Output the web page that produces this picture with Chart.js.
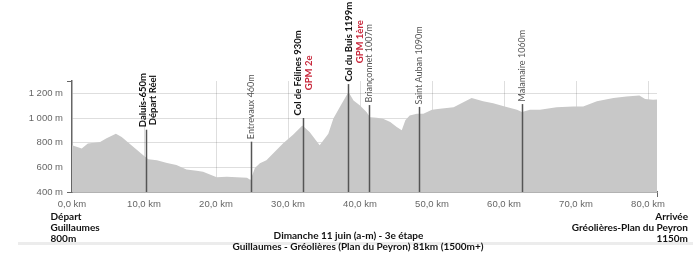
<!DOCTYPE html>
<html><head><meta charset="utf-8">
<script src="https://cdn.jsdelivr.net/npm/chart.js@4.4.1/dist/chart.umd.min.js"></script>
<style>html,body{margin:0;padding:0;background:#fff}#wrap{width:700px;height:259px;position:relative}</style>
</head><body><div id="wrap"><canvas id="c" width="700" height="259"></canvas></div>
<script>
// ---- data ----
const distanceKm = [0,1.35,2.2,3.9,4.8,6.1,6.9,8.5,9.9,10.6,11.8,13.2,14.5,15.9,17.3,18.2,20.1,21.5,22.9,24.3,24.8,25.4,26.1,27.0,29.3,30.7,32.0,33.0,34.4,35.6,36.3,37.2,38.4,39.1,40.0,40.9,41.4,42.3,43.2,44.2,45.1,45.8,46.3,46.9,47.9,48.8,50.0,51.1,53.0,55.5,57.1,58.5,60.1,61.8,62.5,63.6,65.0,67.3,69.6,71.0,72.9,75.2,77.0,78.8,79.6,80.7,81.25];
const elevationM = [779,752,793,806,835,873,846,766,698,666,658,636,618,583,572,564,519,524,519,516,497,594,634,658,793,865,940,887,779,873,996,1090,1211,1142,1102,1048,1007,1002,994,967,927,900,981,1021,1034,1034,1067,1075,1088,1163,1136,1120,1094,1067,1048,1067,1067,1088,1094,1094,1136,1163,1174,1182,1155,1147,1150];
const xTickValues = [0,10,20,30,40,50,60,70,80];
const yTickValues = [400,600,800,1000,1200];
const xMaxKm = 81.25;
const yMinM = 400, yMaxM = 1300;
const markerKm = [10.32,24.86,32.04,38.38,41.29,48.19,62.46];
const markerTopM = [905,808,1000,1275,1105,1090,1113];
const markerTitle = ['Daluis-650m','Entrevaux 460m','Col de Félines 930m','Col du Buis 1199m','Briançonnet 1007m','Saint Auban 1090m','Malamaire 1060m'];
const markerSub = ['Départ Réel','','GPM 2e','GPM 1ère','','',''];
const markerMajor = [true,false,true,true,false,false,false];
const startLines = ['Départ','Guillaumes','800m'];
const finishLines = ['Arrivée','Gréolières-Plan du Peyron','1150m'];
const titleLines = ['Dimanche 11 juin (a-m) - 3e étape','Guillaumes - Gréolières (Plan du Peyron) 81km (1500m+)'];

// ---- layout / style ----
const labelDx = [[-4,6],[0],[-6,5],[0,11],[0],[0],[0]];
const subColor = ['#111','', '#c8283c', '#c8283c','','',''];
const LABEL_FONT = "Lato, 'Open Sans', sans-serif";

const fmtKm = v => v.toFixed(1).replace('.', ',') + ' km';
const fmtM = v => String(v).replace(/\B(?=(\d{3})+(?!\d))/g, ' ') + ' m';

const profilePlugin = {
  id: 'profileLabels',
  afterDraw(chart) {
    const {ctx, scales: {x, y}, chartArea} = chart;
    ctx.save();
    markerKm.forEach((km, i) => {
      const px = Math.round(x.getPixelForValue(km)) + 0.5;
      const top = y.getPixelForValue(markerTopM[i]);
      ctx.strokeStyle = '#555';
      ctx.lineWidth = 1.5;
      ctx.beginPath();
      ctx.moveTo(px, chartArea.bottom);
      ctx.lineTo(px, top);
      ctx.stroke();
      ctx.save();
      ctx.translate(px, top - 2.5);
      ctx.rotate(-Math.PI / 2);
      ctx.textBaseline = 'middle';
      ctx.textAlign = 'center';
      const lines = [];
      if (markerMajor[i]) {
        lines.push({t: markerTitle[i], font: 'bold 9.5px ' + LABEL_FONT, color: '#111'});
        if (markerSub[i]) lines.push({t: markerSub[i], font: 'bold 9.5px ' + LABEL_FONT, color: subColor[i]});
      } else {
        lines.push({t: markerTitle[i], font: '9px ' + LABEL_FONT, color: '#555'});
      }
      let W = 0;
      lines.forEach(l => { ctx.font = l.font; W = Math.max(W, ctx.measureText(l.t).width); });
      lines.forEach((l, j) => {
        ctx.font = l.font;
        ctx.fillStyle = l.color;
        ctx.fillText(l.t, W / 2, labelDx[i][j] || 0);
      });
      ctx.restore();
    });
    // separator bar
    ctx.fillStyle = '#ececec';
    ctx.fillRect(18, 242, 675, 3);
    ctx.font = 'bold 10px ' + LABEL_FONT;
    ctx.fillStyle = '#111';
    ctx.textBaseline = 'middle';
    ctx.textAlign = 'left';
    startLines.forEach((t, j) => ctx.fillText(t, 50.5, 217 + j * 11));
    ctx.textAlign = 'right';
    finishLines.forEach((t, j) => ctx.fillText(t, 688, 217 + j * 11));
    ctx.textAlign = 'center';
    ctx.fillText(titleLines[0], 348.5, 236);
    ctx.fillText(titleLines[1], 358, 247);
    ctx.restore();
  }
};

const gridCol = 'rgba(0,0,0,0.13)';
new Chart(document.getElementById('c'), {
  type: 'line',
  data: {
    datasets: [{
      data: distanceKm.map((d, i) => ({x: d, y: elevationM[i]})),
      fill: 'start',
      backgroundColor: '#c8c8c8',
      borderWidth: 0,
      pointRadius: 0,
      tension: 0
    }]
  },
  options: {
    responsive: false,
    animation: false,
    events: [],
    layout: {padding: {top: 81, right: 43, left: 0, bottom: 0}},
    plugins: {legend: {display: false}, tooltip: {enabled: false}},
    scales: {
      x: {
        type: 'linear', min: 0, max: xMaxKm, z: 1,
        afterBuildTicks: s => { s.ticks = [...xTickValues, xMaxKm].map(v => ({value: v})); },
        afterFit: s => { s.height = 67; },
        grid: {
          color: c => (c.tick && c.tick.value > 0 && c.tick.value < xMaxKm) ? gridCol : 'rgba(0,0,0,0)',
          tickColor: c => (c.tick && c.tick.value === xMaxKm) ? '#666' : 'rgba(0,0,0,0)',
          tickLength: 5, lineWidth: 1
        },
        border: {color: '#666', width: 1.5},
        ticks: {autoSkip: false, maxRotation: 0, padding: 2, color: '#666',
          font: {family: "'Liberation Sans', Arial, sans-serif", size: 9.5},
          callback: v => v === xMaxKm ? '' : fmtKm(v)}
      },
      y: {
        type: 'linear', min: yMinM, max: yMaxM, z: 1,
        afterBuildTicks: s => { s.ticks = [...yTickValues, yMaxM].map(v => ({value: v})); },
        afterFit: s => { s.width = 72; },
        grid: {
          color: c => (c.tick && c.tick.value > yMinM && c.tick.value < yMaxM) ? gridCol : 'rgba(0,0,0,0)',
          tickColor: c => (c.tick && (c.tick.value === yMinM || c.tick.value === yMaxM)) ? '#666' : 'rgba(0,0,0,0)',
          tickLength: 5, lineWidth: 1
        },
        border: {color: '#666', width: 1.5},
        ticks: {autoSkip: false, padding: 4, color: '#666',
          font: {family: "'Liberation Sans', Arial, sans-serif", size: 9.5},
          callback: v => v === yMaxM ? '' : fmtM(v)}
      }
    }
  },
  plugins: [profilePlugin]
});
</script></body></html>
